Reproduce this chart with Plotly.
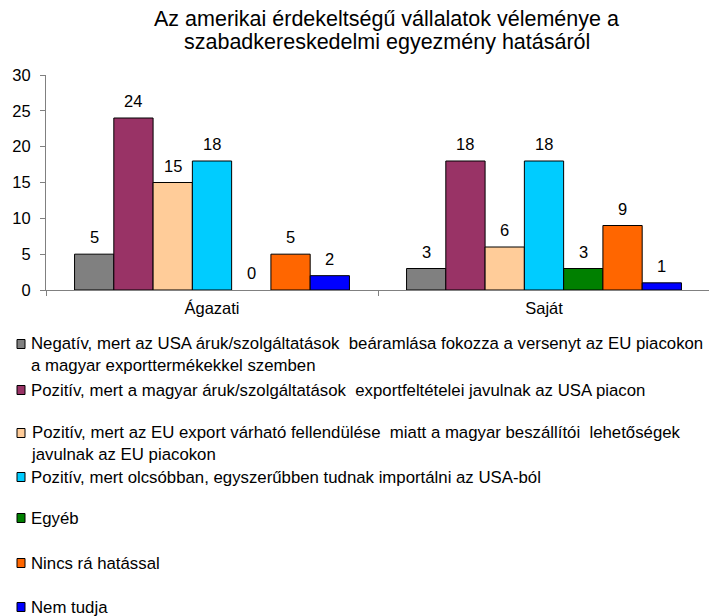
import plotly.graph_objects as go

categories = ["Ágazati", "Saját"]
series_names = [
    "Negatív, mert az USA áruk/szolgáltatások  beáramlása fokozza a versenyt az EU piacokon<br>a magyar exporttermékekkel szemben",
    "Pozitív, mert a magyar áruk/szolgáltatások  exportfeltételei javulnak az USA piacon",
    "Pozitív, mert az EU export várható fellendülése  miatt a magyar beszállítói  lehetőségek<br>javulnak az EU piacokon",
    "Pozitív, mert olcsóbban, egyszerűbben tudnak importálni az USA-ból",
    "Egyéb",
    "Nincs rá hatással",
    "Nem tudja",
]
negativ = [5, 3]
pozitiv_export = [24, 18]
pozitiv_eu = [15, 6]
pozitiv_import = [18, 18]
egyeb = [0, 3]
nincs_hatas = [5, 9]
nem_tudja = [2, 1]
values = [negativ, pozitiv_export, pozitiv_eu, pozitiv_import, egyeb, nincs_hatas, nem_tudja]
colors = ["#808080", "#993366", "#FFCC99", "#00CCFF", "#008000", "#FF6600", "#0000FF"]
y_ticks = [0, 5, 10, 15, 20, 25, 30]
title_lines = ["Az amerikai érdekeltségű vállalatok véleménye a",
               "szabadkereskedelmi egyezmény hatásáról"]

# the page has an 8px body margin; lay the figure out in page pixels minus that offset
OFF = 8
W, H = 717 - OFF, 616 - OFF
PL, PR, PT, PB = 46, 710, 75, 290          # plot area in page pixels
L, R, T, B = PL - OFF, W - (PR - OFF), PT - OFF, H - (PB - OFF)
plot_w = W - L - R
plot_h = H - T - B
BARGAP = 0.172

FONT = "Liberation Sans, Arial, sans-serif"
TXT = 16.5

def px_x(px):  # page pixel -> paper x
    return (px - OFF - L) / plot_w

def px_y(py):  # page pixel -> paper y
    return (H - B - (py - OFF)) / plot_h

fig = go.Figure()
n = len(values)
bar_w = plot_w / len(categories) * (1 - BARGAP) / n
annotations = []
for i, (name, vals, col) in enumerate(zip(series_names, values, colors)):
    fig.add_trace(go.Bar(
        x=categories, y=vals, name=name,
        marker=dict(color=col,
                    line=dict(color="black", width=[1 if v else 0 for v in vals])),
        showlegend=False, cliponaxis=False,
    ))
    for cat, v in zip(categories, vals):
        annotations.append(dict(
            x=cat, y=v, xref="x", yref="y", text=str(v), showarrow=False,
            xanchor="center", yanchor="bottom",
            xshift=(i - (n - 1) / 2) * bar_w, yshift=6,
            font=dict(size=TXT, color="black", family=FONT),
        ))

# manual legend (Excel style, fixed spacing)
legend_rows = [344, 390, 433, 477, 518, 563, 607]
shapes = []
for name, col, cy in zip(series_names, colors, legend_rows):
    shapes.append(dict(
        type="rect", xref="paper", yref="paper",
        x0=px_x(17), x1=px_x(25), y0=px_y(cy + 4.5), y1=px_y(cy - 4.5),
        fillcolor=col, line=dict(color="black", width=1),
    ))
    nlines = name.count("<br>") + 1
    center = cy + (nlines - 1) * 1.3 * 16.8 / 2
    annotations.append(dict(
        text=name, xref="paper", yref="paper",
        x=px_x(29), y=px_y(center),
        xanchor="left", yanchor="middle", align="left", showarrow=False,
        font=dict(size=16.8, color="black", family=FONT),
    ))

# title (two lines placed separately for Excel-like line spacing)
for line, cy in zip(title_lines, [19.5, 42.5]):
    annotations.append(dict(
        text=line, xref="paper", yref="paper",
        x=px_x(387), y=px_y(cy), xanchor="center", yanchor="middle",
        showarrow=False, font=dict(size=21.5, color="black", family=FONT),
    ))

fig.update_layout(
    width=W, height=H,
    margin=dict(l=L, r=R, t=T, b=B, autoexpand=False),
    paper_bgcolor="white", plot_bgcolor="white",
    barmode="group", bargap=BARGAP, bargroupgap=0,
    xaxis=dict(
        showline=True, linecolor="#808080", linewidth=1,
        ticks="outside", tickson="boundaries", ticklen=5, tickcolor="#808080",
        tickfont=dict(size=TXT, color="black", family=FONT),
        ticklabelstandoff=3, showgrid=False,
    ),
    yaxis=dict(
        range=[0, 30], tickvals=y_ticks, showline=True, linecolor="#808080", linewidth=1,
        ticks="outside", ticklen=5, tickcolor="#808080",
        tickfont=dict(size=TXT, color="black", family=FONT),
        ticklabelstandoff=6, showgrid=False, zeroline=False,
    ),
    shapes=shapes, annotations=annotations,
    font=dict(family=FONT),
)

fig.write_html("out.html")
